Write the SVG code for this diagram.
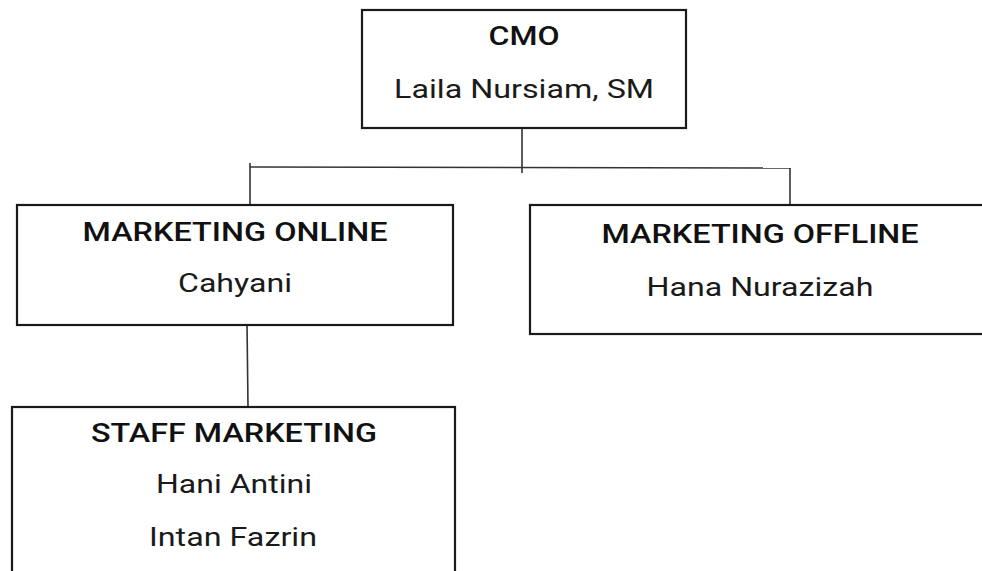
<svg xmlns="http://www.w3.org/2000/svg" width="982" height="571" viewBox="0 0 982 571">
<style>
.box{fill:#fff;stroke:#1a1a1a;stroke-width:2.2}
.ln{stroke:#333;stroke-width:1.6;fill:none}
.t{font-family:Roboto,"Liberation Sans",sans-serif;font-size:26px;font-weight:500;fill:#111;text-anchor:middle}
.n{font-family:Roboto,"Liberation Sans",sans-serif;font-size:26px;font-weight:400;fill:#1a1a1a;text-anchor:middle}
</style>
<rect width="982" height="571" fill="#fff"/>
<g id="connectors">
<line class="ln" x1="522" y1="126" x2="522" y2="173"/>
<line class="ln" x1="250" y1="167" x2="791" y2="168"/>
<line class="ln" x1="250" y1="163" x2="250" y2="205"/>
<line class="ln" x1="790" y1="168" x2="790" y2="205"/>
<line class="ln" x1="247" y1="323" x2="248" y2="407"/>
</g>
<g id="cmo">
<rect class="box" x="362" y="10" width="324" height="118"/>
<text class="t" x="524" y="45" textLength="71" lengthAdjust="spacingAndGlyphs">CMO</text>
<text class="n" x="524" y="98" textLength="260" lengthAdjust="spacingAndGlyphs">Laila Nursiam, SM</text>
</g>
<g id="marketing-online">
<rect class="box" x="17" y="205" width="436" height="120"/>
<text class="t" x="235" y="241" textLength="305" lengthAdjust="spacingAndGlyphs">MARKETING ONLINE</text>
<text class="n" x="235" y="292" textLength="114" lengthAdjust="spacingAndGlyphs">Cahyani</text>
</g>
<g id="marketing-offline">
<rect class="box" x="530" y="205" width="470" height="129"/>
<text class="t" x="760" y="243" textLength="317" lengthAdjust="spacingAndGlyphs">MARKETING OFFLINE</text>
<text class="n" x="760" y="296" textLength="227" lengthAdjust="spacingAndGlyphs">Hana Nurazizah</text>
</g>
<g id="staff-marketing">
<rect class="box" x="12" y="407" width="443" height="180"/>
<text class="t" x="234" y="442" textLength="286" lengthAdjust="spacingAndGlyphs">STAFF MARKETING</text>
<text class="n" x="234" y="493" textLength="156" lengthAdjust="spacingAndGlyphs">Hani Antini</text>
<text class="n" x="233" y="546" textLength="168" lengthAdjust="spacingAndGlyphs">Intan Fazrin</text>
</g>
</svg>
